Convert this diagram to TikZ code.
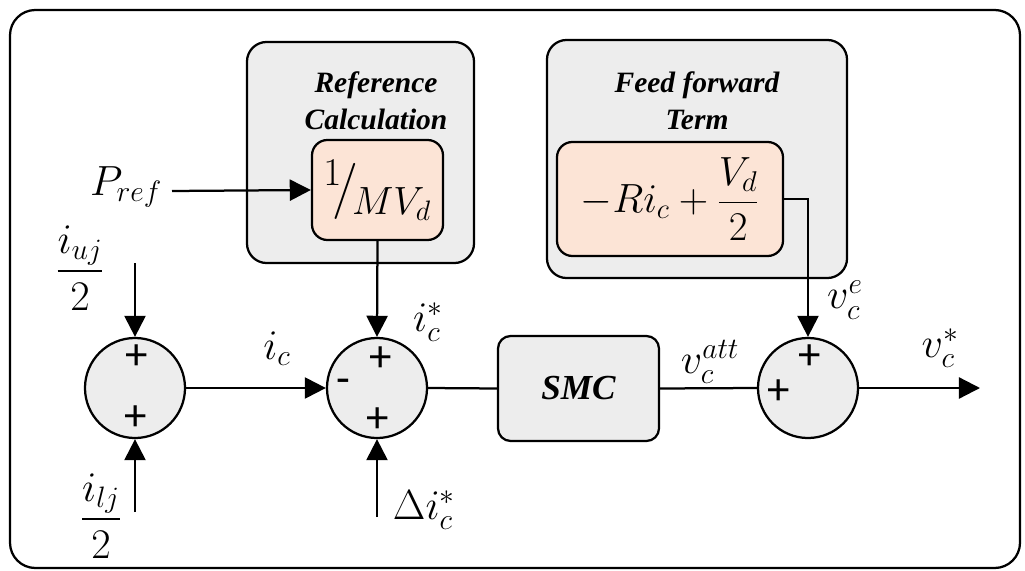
\documentclass[tikz,border=0pt]{standalone}
\usepackage{fix-cm}
\usepackage{amsmath}
\usepackage{fontspec}
\newfontfamily\titlefont{Liberation Serif}
\newfontfamily\signfont{Carlito}
\usetikzlibrary{arrows.meta, positioning, calc}
\definecolor{blockgray}{HTML}{EDEDED}
\definecolor{blockorange}{HTML}{FCE4D6}

\tikzset{
  grayblock/.style={draw, line width=1.6pt, fill=blockgray, rounded corners=14pt, inner sep=0pt},
  orangeblock/.style={draw, line width=1.6pt, fill=blockorange, rounded corners=11pt, inner sep=0pt},
  sumnode/.style={draw, circle, line width=1.6pt, fill=blockgray, minimum size=2.5cm, inner sep=0pt},
  signal/.style={line width=1.6pt, -{Triangle[length=15pt, width=15pt]}},
  wire/.style={line width=1.6pt},
  blocktitle/.style={font=\titlefont\bfseries\itshape\fontsize{21}{26}\selectfont, align=center},
  lbl/.style={font=\fontsize{30}{34}\selectfont, inner sep=0pt},
  sign/.style={font=\signfont\fontsize{32}{34}\selectfont, inner sep=0pt}
}

\begin{document}
\begin{tikzpicture}[x=0.025cm, y=-0.025cm]
  \useasboundingbox (0,0) rectangle (1025,571);
  \draw[line width=1.6pt, rounded corners=18pt] (10,10) rectangle (1020,568);

  % grey groups
  \node[grayblock, minimum width=5.675cm, minimum height=5.525cm] (refbox) at (360.5,152.5) {};
  \node[blocktitle] (reftitle) at (376,101) {Reference\\Calculation};
  \node[grayblock, minimum width=7.5cm, minimum height=5.95cm] (ffbox) at (697,159) {};
  \node[blocktitle] (fftitle) at (697,101) {Feed forward\\Term};

  % blocks
  \node[orangeblock, minimum width=3.275cm, minimum height=2.5cm,
        font=\fontsize{40}{44}\selectfont] (refcalc) at (377.5,190) {${}^{1}\!/_{\!MV_d}$};
  \node[orangeblock, minimum width=5.65cm, minimum height=2.85cm,
        font=\fontsize{29}{32}\selectfont] (ffterm) at (670,199) {$-Ri_c+\dfrac{V_d}{2}$};
  \node[grayblock, rounded corners=9pt, minimum width=4.025cm, minimum height=2.625cm,
        blocktitle, font=\titlefont\bfseries\itshape\fontsize{25}{28}\selectfont] (smc) at (578.5,388.5) {SMC};

  % summing junctions
  \node[sumnode] (sum1) at (135,388) {};
  \node[sumnode] (sum2) at (377,388) {};
  \node[sumnode] (sum3) at (808,388) {};
  \node[sign] at (137,357) {+};
  \node[sign] at (136,418) {+};
  \node[sign] at (381,359) {+};
  \node[sign] at (343,386) {-};
  \node[sign] at (378,420) {+};
  \node[sign] at (810,357) {+};
  \node[sign] at (779,392) {+};

  % free ends
  \coordinate (pin) at (172,191);
  \coordinate (ujin) at (135,263);
  \coordinate (ljin) at (135,512);
  \coordinate (diin) at (377,517);
  \coordinate (vout) at (980,388);

  % labels
  \node[lbl] (pref) at (126,187) {$P_{ref}$};
  \node[lbl] (iuj) at (80,268) {$\dfrac{i_{uj}}{2}$};
  \node[lbl] (ilj) at (101,516) {$\dfrac{i_{lj}}{2}$};
  \node[lbl] (dic) at (424,510) {$\Delta i_c^*$};
  \node[lbl] (ic) at (277,349) {$i_c$};
  \node[lbl] (icstar) at (428,322) {$i_c^*$};
  \node[lbl] (vatt) at (710,362) {$v_c^{att}$};
  \node[lbl] (ve) at (845,300) {$v_c^{e}$};
  \node[lbl] (vstar) at (940,348) {$v_c^*$};

  % connectors
  \draw[signal] (pin) -- (refcalc.west);
  \draw[signal] (refcalc.south) -- (sum2.north);
  \draw[signal] (ujin) -- (sum1.north);
  \draw[signal] (ljin) -- (sum1.south);
  \draw[signal] (sum1.east) -- (sum2.west);
  \draw[signal] (diin) -- (sum2.south);
  \draw[wire] (sum2.east) -- (smc.west);
  \draw[wire] (smc.east) -- (sum3.west);
  \draw[signal] (ffterm.east) -| (sum3.north);
  \draw[signal] (sum3.east) -- (vout);
\end{tikzpicture}
\end{document}
